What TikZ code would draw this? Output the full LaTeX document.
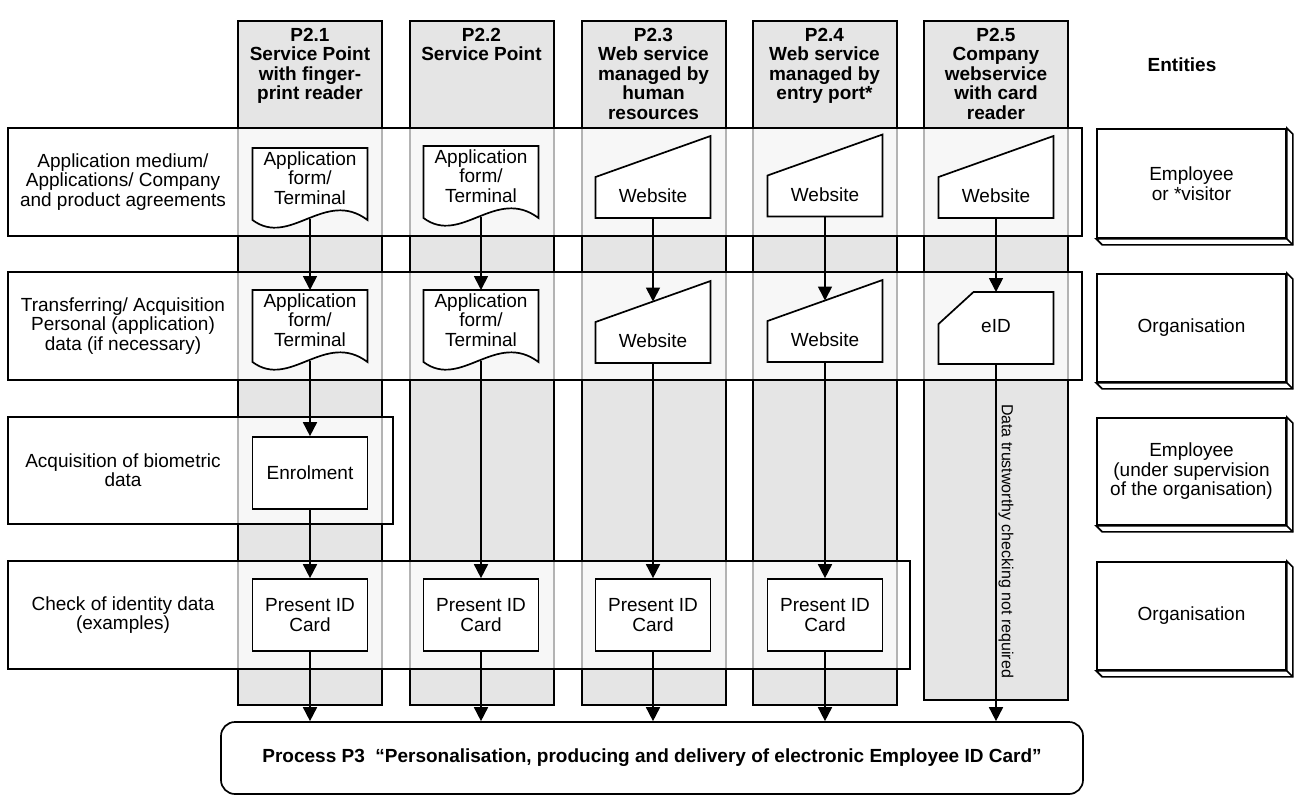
\documentclass[tikz,border=0pt]{standalone}
\usepackage{fontspec}
\setmainfont{Liberation Sans}
\usetikzlibrary{arrows.meta,calc}
\tikzset{
  lw/.style={line width=1.7pt},
  col/.style={draw=black, line width=1.7pt, fill=gray!20},
  rowbox/.style={draw=black, line width=1.7pt, fill=white, fill opacity=0.7},
  shp/.style={draw=black, line width=1.7pt, fill=white, line join=miter},
  txt/.style={font=\fontsize{19}{19.5}\selectfont, align=center, inner sep=0pt},
  hdr/.style={font=\bfseries\fontsize{19}{19.5}\selectfont, align=center, inner sep=0pt},
  flow/.style={line width=1.7pt, -{Triangle[length=14pt,width=14pt]}},
  idbox/.style={draw=black, line width=1.7pt, fill=white, minimum width=115pt, minimum height=72pt, txt},
}
\newcommand{\docshp}[3]{%
  \path[shp] (#2+57.5,#3) -- (#2-57.5,#3) -- (#2-57.5,#3+72) .. controls (#2-20,#3+100) and (#2+15,#3+40) .. (#2+57.5,#3+72) -- cycle;
  \node[txt] (#1) at (#2,#3+30) {Application\\form/\\Terminal};
  \coordinate (#1-t) at (#2,#3);
  \coordinate (#1-b) at (#2,#3+70.5);
}
\newcommand{\webshp}[3]{%
  \path[shp] (#2-57.5,#3) -- (#2-57.5,#3-41) -- (#2+57.5,#3-82) -- (#2+57.5,#3) -- cycle;
  \node[txt] (#1) at (#2,#3-22) {Website};
  \coordinate (#1-t) at (#2,#3-61.5);
  \coordinate (#1-b) at (#2,#3);
}
\newcommand{\entbox}[4]{%
  \node[txt, draw=black, line width=1.7pt, fill=white, minimum width=189pt, minimum height=#3pt] (#1) at (1191.5,#2+#3/2) {#4};
  \path[shp] (#1.south west) -- ++(6,6) -- ([shift={(6,6)}]#1.south east) -- ([shift={(6,6)}]#1.north east) -- (#1.north east) -- (#1.south east) -- cycle;
  \draw[lw] (#1.south east) -- ++(6,6);
}
\begin{document}
\begin{tikzpicture}[x=1pt,y=-1pt]
\useasboundingbox (0,0) rectangle (1297,796);
% columns
\foreach \cx/\cb in {238/705,410/705,582/705,753/705,924/700}
  \path[col] (\cx,21) rectangle (\cx+144,\cb);
% headers
\node[hdr, anchor=north] (h1) at (310,28) {P2.1\\Service Point\\with finger-\\print reader};
\node[hdr, anchor=north] (h2) at (481.5,28) {P2.2\\Service Point};
\node[hdr, anchor=north] (h3) at (653.5,28) {P2.3\\Web service\\managed by\\human\\resources};
\node[hdr, anchor=north] (h4) at (824.5,28) {P2.4\\Web service\\managed by\\entry port*};
\node[hdr, anchor=north] (h5) at (996,28) {P2.5\\Company\\webservice\\with card\\reader};
\node[hdr] (ent) at (1182,65) {Entities};
% rows
\path[rowbox] (8,128) rectangle (1082,236);
\path[rowbox] (8,272) rectangle (1082,380);
\path[rowbox] (8,417) rectangle (393,524);
\path[rowbox] (8,561) rectangle (910,669);
% row labels
\node[txt] (l1) at (123,182) {Application medium/\\Applications/ Company\\and product agreements};
\node[txt] (l2) at (123,326) {Transferring/ Acquisition\\Personal (application)\\data (if necessary)};
\node[txt] (l3) at (123,470) {Acquisition of biometric\\data};
\node[txt] (l4) at (123,615) {Check of identity data\\(examples)};
% row 1
\docshp{d11}{310}{148}
\docshp{d12}{481}{146}
\webshp{w13}{653}{218}
\webshp{w14}{825}{216.5}
\webshp{w15}{996}{218}
% row 2
\docshp{d21}{310}{290}
\docshp{d22}{481}{290}
\webshp{w23}{653}{363}
\webshp{w24}{825}{362}
\path[shp] (996-57.5+35,292) -- (996+57.5,292) -- (996+57.5,364) -- (996-57.5,364) -- (996-57.5,324) -- cycle;
\node[txt] (eid) at (996,326) {eID};
\coordinate (eid-t) at (996,292);
\coordinate (eid-b) at (996,364);
% row 3
\node[idbox] (enr) at (310,473) {Enrolment};
% row 4
\node[idbox] (pr1) at (310,615) {Present ID\\Card};
\node[idbox] (pr2) at (481,615) {Present ID\\Card};
\node[idbox] (pr3) at (653,615) {Present ID\\Card};
\node[idbox] (pr4) at (825,615) {Present ID\\Card};
% process
\node[hdr, draw=black, line width=1.7pt, fill=white, rounded corners=14pt, minimum width=862pt, minimum height=72pt] (proc) at (652,758) {Process P3\ \ “Personalisation, producing and delivery of electronic Employee ID Card”};
% arrows
\draw[flow] (d11-b) -- (d21-t);
\draw[flow] (d21-b) -- (enr.north);
\draw[flow] (enr.south) -- (pr1.north);
\draw[flow] (pr1.south) -- (pr1.south |- proc.north);
\draw[flow] (d12-b) -- (d22-t);
\draw[flow] (d22-b) -- (pr2.north);
\draw[flow] (pr2.south) -- (pr2.south |- proc.north);
\draw[flow] (w13-b) -- (w23-t);
\draw[flow] (w23-b) -- (pr3.north);
\draw[flow] (pr3.south) -- (pr3.south |- proc.north);
\draw[flow] (w14-b) -- (w24-t);
\draw[flow] (w24-b) -- (pr4.north);
\draw[flow] (pr4.south) -- (pr4.south |- proc.north);
\draw[flow] (w15-b) -- (eid-t);
\draw[flow] (eid-b) -- (eid-b |- proc.north);
\node[txt, font=\fontsize{16}{16.5}\selectfont, rotate=-90] (dtc) at (1006,541) {Data trustworthy checking not required};
% entities
\entbox{e1}{129}{109}{Employee\\or *visitor}
\entbox{e2}{274}{108}{Organisation}
\entbox{e3}{418}{107}{Employee\\(under supervision\\of the organisation)}
\entbox{e4}{562}{108}{Organisation}
\end{tikzpicture}
\end{document}
